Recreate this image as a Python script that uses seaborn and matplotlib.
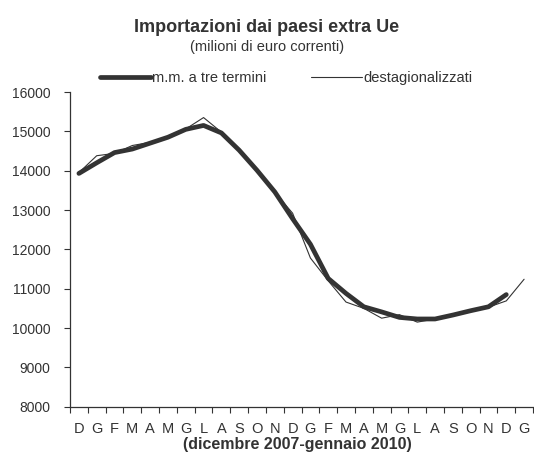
import matplotlib
matplotlib.use("Agg")
import matplotlib.pyplot as plt
import seaborn as sns
import numpy as np
import pandas as pd

months = ["D", "G", "F", "M", "A", "M", "G", "L", "A", "S", "O", "N",
          "D", "G", "F", "M", "A", "M", "G", "L", "A", "S", "O", "N",
          "D", "G"]

destag = [13950, 14380, 14440, 14640, 14720, 14850, 15060, 15350, 14980,
          14520, 14010, 13450, 12920, 11780, 11200, 10660, 10500, 10250,
          10340, 10150, 10230, 10340, 10440, 10530, 10690, 11240]

mm3 = [13930, 14200, 14460, 14550, 14700, 14850, 15050, 15150, 14960,
       14520, 14010, 13460, 12780, 12130, 11260, 10880, 10540, 10410,
       10270, 10230, 10230, 10330, 10440, 10540, 10850]

yticks = [8000, 9000, 10000, 11000, 12000, 13000, 14000, 15000, 16000]

sns.set_theme(style="white")
plt.rcParams['font.family'] = ['Liberation Sans', 'DejaVu Sans']

col = "#333333"
txt = "#333333"

fig = plt.figure(figsize=(5.34, 4.54), dpi=100)
ax = fig.add_axes([70/534, 1-406.7/454, 463/534, (406.7-92)/454])

df_thin = pd.DataFrame({"x": np.arange(len(destag)), "y": destag})
df_thick = pd.DataFrame({"x": np.arange(len(mm3)), "y": mm3})

sns.lineplot(data=df_thick, x="x", y="y", ax=ax, color=col, linewidth=3.4,
             label="m.m. a tre termini", solid_capstyle="round")
sns.lineplot(data=df_thin, x="x", y="y", ax=ax, color=col, linewidth=0.8,
             label="destagionalizzati")

ax.set_xlim(-0.5, len(months) - 0.5)
ax.set_ylim(8000, 16000)
ax.set_yticks(yticks)
ax.set_yticklabels([str(v) for v in yticks], fontsize=10, color=txt)

ax.set_xticks(np.arange(-0.5, len(months), 1.0))
ax.set_xticklabels([])
ax.set_xticks(np.arange(len(months)), minor=True)
ax.set_xticklabels(months, minor=True, fontsize=10.5, color=txt)
ax.tick_params(axis="x", which="major", direction="out", length=4, width=0.8,
               color=col, bottom=True)
ax.tick_params(axis="x", which="minor", length=0, pad=11)
ax.tick_params(axis="y", direction="out", length=4, width=0.8, color=col,
               left=True, pad=10)

for s in ["top", "right"]:
    ax.spines[s].set_visible(False)
for s in ["left", "bottom"]:
    ax.spines[s].set_color(col)
    ax.spines[s].set_linewidth(0.9)

ax.set_xlabel("")
ax.set_ylabel("")
fig.text(297/534, 1-445/454, "(dicembre 2007-gennaio 2010)", ha="center",
         va="center", fontsize=11.5, fontweight="bold", color=txt)

fig.text(0.5, 1-27/454, "Importazioni dai paesi extra Ue", ha="center",
         va="center", fontsize=13, fontweight="bold", color=txt)
fig.text(0.5, 1-47/454, "(milioni di euro correnti)", ha="center",
         va="center", fontsize=10.5, color=txt)

leg = ax.legend(loc="center", bbox_to_anchor=(286/534, 1-78/454),
                bbox_transform=fig.transFigure, ncol=2, frameon=False,
                fontsize=10.5, handlelength=3.5, handletextpad=0.1,
                columnspacing=3.0)
for t in leg.get_texts():
    t.set_color(txt)

fig.savefig("out.png", dpi=100)
